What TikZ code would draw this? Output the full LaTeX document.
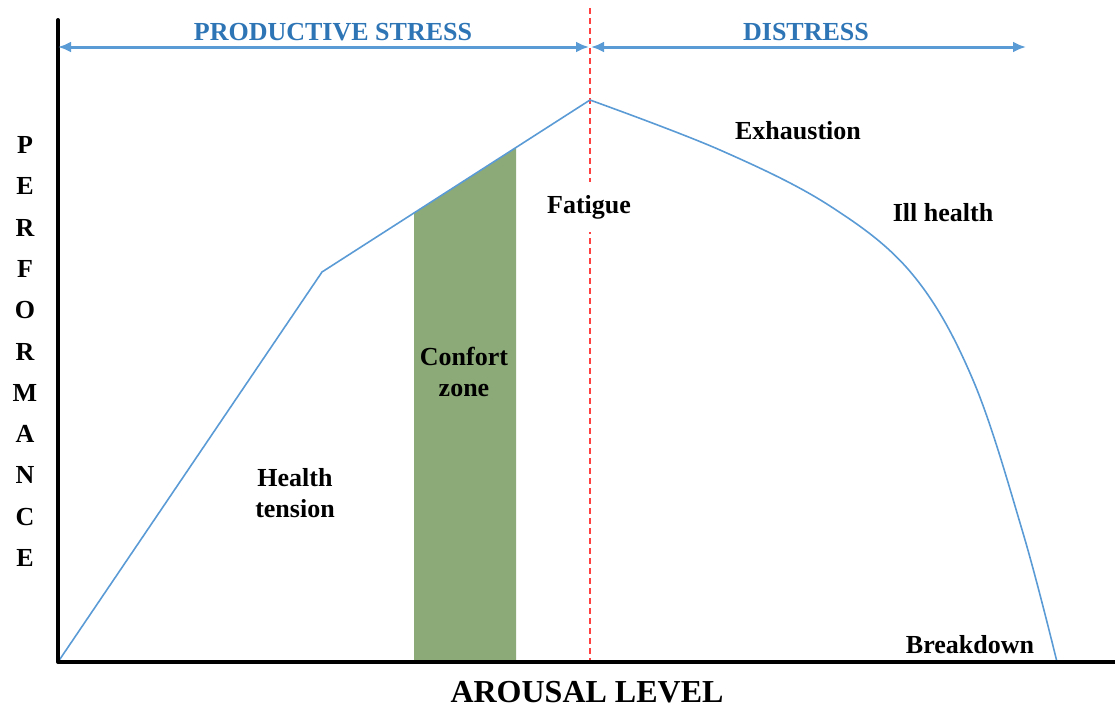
\documentclass[tikz,border=0pt]{standalone}
\usepackage{fontspec}
\setmainfont{Liberation Serif}
\usetikzlibrary{arrows.meta}
\definecolor{curveBlue}{HTML}{5B9BD5}
\definecolor{titleBlue}{HTML}{2E75B6}
\definecolor{zoneGreen}{HTML}{8CAA78}
\definecolor{limitRed}{HTML}{FF4040}
\begin{document}
\begin{tikzpicture}[>={Latex[length=6.5pt,width=5.5pt]},x=0.5pt,y=-0.5pt,
    lbl/.style={font=\bfseries\fontsize{13}{15.5}\selectfont,align=center,inner sep=0pt},
    ttl/.style={font=\bfseries\fontsize{13}{15}\selectfont,text=titleBlue,inner sep=0pt},
    span/.style={<->,curveBlue,line width=1.5pt}]
                \useasboundingbox (0,0) rectangle (1115,709);
                \coordinate (orig) at (58,662);
                \coordinate (yMax) at (58,20);
                \coordinate (xMax) at (1115,662);
                \coordinate (knee) at (322,272);
                \coordinate (peak) at (590,100);
                \coordinate (redTop) at (590,8);
                \coordinate (redBot) at (590,662);
                \coordinate (zoneA) at (414,662);
                \coordinate (zoneB) at (414,213);
                \coordinate (zoneC) at (516,147.5);
                \coordinate (zoneD) at (516,662);
                \fill[zoneGreen] (zoneA)--(zoneB)--(zoneC)--(zoneD)--cycle;
                \draw[limitRed,densely dashed,line width=0.6pt] (redTop)--(redBot);
                \node[lbl,fill=white,inner xsep=6pt,inner ysep=6.5pt] (fatigue) at (589,207) {Fatigue};
                \draw[curveBlue,line width=0.8pt] (orig)--(knee)--(peak)
                    plot[smooth,tension=0.6] coordinates {(590,100) (720,150) (830,206) (913,275) (973,380) (1023,533) (1057,662)};
                \draw[line width=2pt,line cap=round] (yMax)--(orig);
                \draw[line width=2pt] (orig)--(xMax);
                \coordinate (spanL) at (58,47);
                \coordinate (spanM1) at (589,47);
                \coordinate (spanM2) at (591,47);
                \coordinate (spanR) at (1026,47);
                \draw[span] (spanL)--(spanM1);
                \draw[span] (spanM2)--(spanR);
                \node[ttl] (prodStress) at (333,32) {PRODUCTIVE STRESS};
                \node[ttl] (distress) at (806,32) {DISTRESS};
                \node[lbl] (exhaust) at (798,131) {Exhaustion};
                \node[lbl] (illHealth) at (943,213) {Ill health};
                \node[lbl] (confort) at (464,372) {Confort\\zone};
                \node[lbl] (tension) at (295,493) {Health\\tension};
                \node[lbl] (breakdown) at (970,645) {Breakdown};
                \node[lbl,font=\bfseries\fontsize{16}{18}\selectfont] (arousal) at (587,692) {AROUSAL LEVEL};
                \foreach \l [count=\i] in {P,E,R,F,O,R,M,A,N,C,E}
                    \node[lbl] (perf\i) at (25,{145+(\i-1)*41.3}) {\l};
            \end{tikzpicture}
\end{document}
